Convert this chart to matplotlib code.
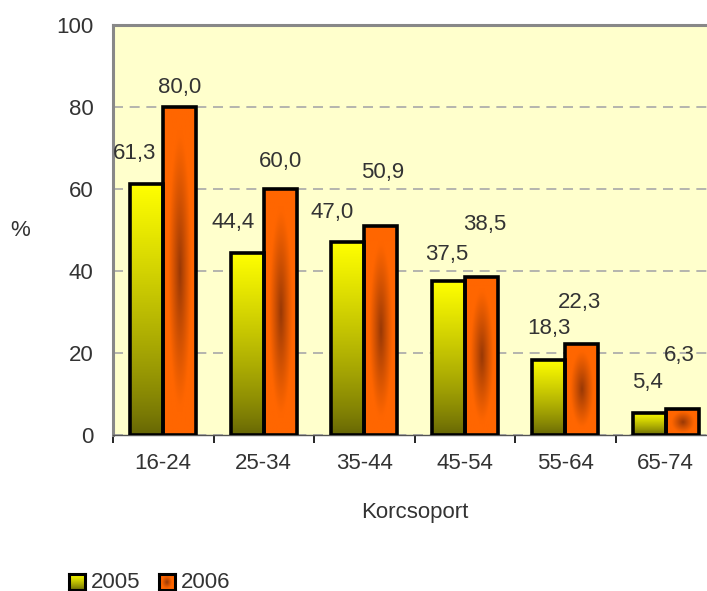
"""Korcsoport szerinti oszlopdiagram (2005 vs 2006), színátmenetes oszlopokkal."""

import numpy as np
import matplotlib

matplotlib.use("Agg")
import matplotlib.pyplot as plt

# Adatok
korcsoport = ["16-24", "25-34", "35-44", "45-54", "55-64", "65-74"]
ertek_2005 = [61.3, 44.4, 47.0, 37.5, 18.3, 5.4]
ertek_2006 = [80.0, 60.0, 50.9, 38.5, 22.3, 6.3]
evek = ["2005", "2006"]

# Címkék eltolása pixelben (a kép alapján kézzel hangolva)
off_2005 = [(-12, 30), (-14, 30), (-16, 30), (-1, 27), (0, 31), (-2, 30)]
off_2006 = [(0, 19), (0, 28), (2, 54), (3, 53), (-2, 41), (-3, 54)]

FONT = "Liberation Sans"
TXT = "#333333"
BG = "#FFFFCC"
FS = 16

plt.rcParams["font.family"] = [FONT, "DejaVu Sans"]


def grad_yellow(n=64):
    # felül élénk sárga, alul olívzöld
    t = np.linspace(0, 1, n)[:, None]  # 0 = alul
    top = np.array([1.0, 1.0, 0.0])
    bot = np.array([0.40, 0.40, 0.02])
    rgb = bot + (top - bot) * (t ** 0.8)[..., None]
    return np.repeat(rgb, 8, axis=1)


def grad_orange(n=64, m=32):
    y = np.linspace(-1, 1, n)[:, None]
    x = np.linspace(-1, 1, m)[None, :]
    d = np.sqrt((x / 0.7) ** 2 + (y / 0.85) ** 2)
    t = np.clip(1 - d, 0, 1) ** 1.1
    base = np.array([1.0, 0.40, 0.0])
    dark = np.array([0.60, 0.22, 0.02])
    return base + (dark - base) * t[..., None]


fig = plt.figure(figsize=(7.07, 5.91), dpi=100)
ax = fig.add_axes([113 / 707, 1 - 435 / 591, 603 / 707, 410 / 591])
ax.set_facecolor(BG)

x = np.arange(len(korcsoport))
w = 0.33

bars05 = ax.bar(x - w / 2, ertek_2005, w, facecolor="none",
                edgecolor="black", linewidth=2.6, zorder=4)
bars06 = ax.bar(x + w / 2, ertek_2006, w, facecolor="none",
                edgecolor="black", linewidth=2.6, zorder=4)

for bars, grad in ((bars05, grad_yellow()), (bars06, grad_orange())):
    for b in bars:
        x0, y0 = b.get_x(), b.get_y()
        im = ax.imshow(grad, extent=[x0, x0 + b.get_width(), y0, y0 + b.get_height()],
                       origin="lower", aspect="auto", interpolation="bilinear", zorder=3)
        im.set_clip_path(b)

for bars, vals, offs in ((bars05, ertek_2005, off_2005), (bars06, ertek_2006, off_2006)):
    for b, v, (dx, dy) in zip(bars, vals, offs):
        ax.annotate(f"{v:.1f}".replace(".", ","),
                    (b.get_x() + b.get_width() / 2, v),
                    xytext=(dx, dy), textcoords="offset pixels",
                    ha="center", va="center", fontsize=FS, color=TXT, zorder=5)

ax.set_xlim(-0.5, len(korcsoport) - 0.5)
ax.set_ylim(0, 100)
ax.set_yticks([0, 20, 40, 60, 80, 100])
ax.set_xticks(x)
ax.set_xticklabels(korcsoport)
ax.set_xticks(np.arange(len(korcsoport) + 1) - 0.5, minor=True)

ax.yaxis.grid(True, color="#A8A8A8", linestyle=(0, (6, 4)), linewidth=1.2)
ax.set_axisbelow(True)

ax.tick_params(axis="y", length=0, pad=14, labelsize=FS, labelcolor=TXT)
ax.tick_params(axis="x", which="major", length=0, pad=13, labelsize=FS, labelcolor=TXT)
ax.tick_params(axis="x", which="minor", length=6, width=1.2, color="black", direction="out")

for s in ("top", "left"):
    ax.spines[s].set_color("#888888")
    ax.spines[s].set_linewidth(2.2)
ax.spines["right"].set_visible(False)
ax.spines["bottom"].set_color("#555555")
ax.spines["bottom"].set_linewidth(1.0)

ax.set_xlabel("Korcsoport", fontsize=FS, color=TXT, labelpad=20)
ax.set_ylabel("%", fontsize=FS, color=TXT, rotation=0, va="center", ha="center")
ax.yaxis.set_label_coords((20 - 113) / 603, (435 - 230) / 410)

# Jelmagyarázat kézzel (színátmenetes négyzetekkel)
for i, (lab, grad) in enumerate(zip(evek, (grad_yellow(), grad_orange()))):
    sx = (69 + i * 90) / 707
    lax = fig.add_axes([sx, 1 - 590 / 591, 16 / 707, 16 / 591])
    lax.imshow(grad, origin="lower", aspect="auto", interpolation="bilinear")
    lax.set_xticks([])
    lax.set_yticks([])
    for sp in lax.spines.values():
        sp.set_linewidth(2.2)
        sp.set_color("black")
    fig.text(sx + 22 / 707, 1 - 582 / 591, lab, fontsize=FS, color=TXT,
             ha="left", va="center")

fig.savefig("out.png", dpi=100, facecolor="white")
